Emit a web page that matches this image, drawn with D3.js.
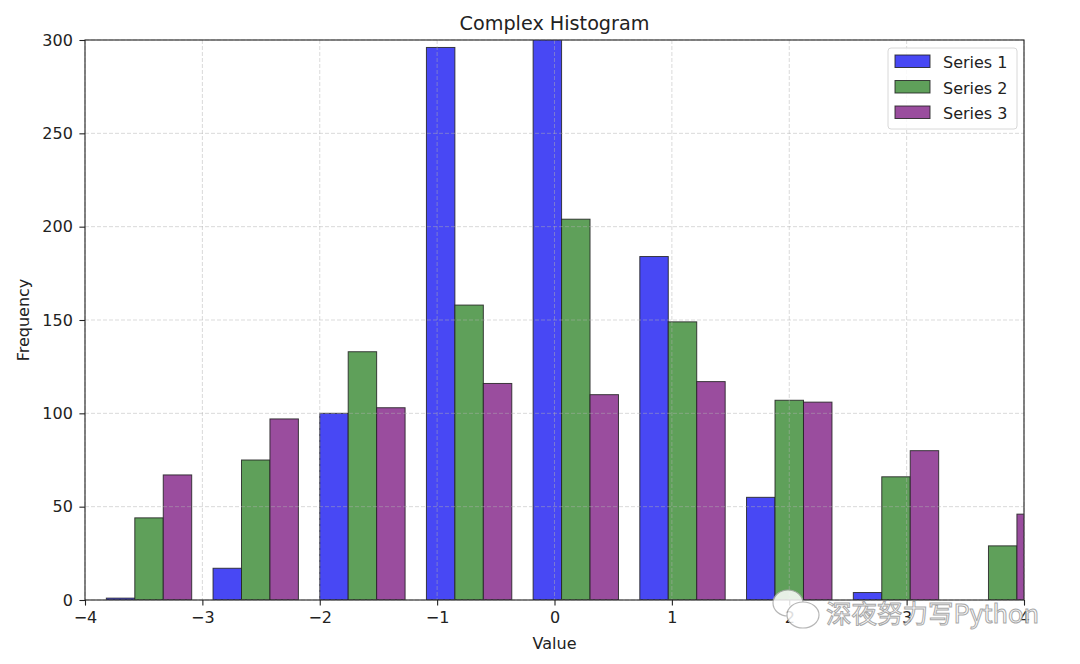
<!DOCTYPE html>
<html><head><meta charset="utf-8">
<script src="https://cdn.jsdelivr.net/npm/d3@7"></script>
<style>body{margin:0;background:#fff}svg{display:block;font-family:"DejaVu Sans",sans-serif}</style>
</head><body><svg id="c" width="1080" height="664"></svg>
<script>
const binEdges = [-3.909, -3.0, -2.091, -1.182, -0.273, 0.636, 1.545, 2.455, 3.364, 4.273];
const seriesNames = ["Series 1", "Series 2", "Series 3"];
const series1 = [1, 17, 100, 296, 320, 184, 55, 4, 0];
const series2 = [44, 75, 133, 158, 204, 149, 107, 66, 29];
const series3 = [67, 97, 103, 116, 110, 117, 106, 80, 46];
const seriesColors = ["#4848f4", "#5fa05a", "#9a4d9e"];
const xTicks = [-4, -3, -2, -1, 0, 1, 2, 3, 4];
const yTicks = [0, 50, 100, 150, 200, 250, 300];

const svg = d3.select("#c");
const L = 85, R = 1024, T = 40, B = 600;
const x = d3.scaleLinear().domain([-4, 4]).range([L, R]);
const y = d3.scaleLinear().domain([0, 300]).range([B, T]);
const allSeries = [series1, series2, series3];

svg.append("defs").append("clipPath").attr("id", "clip")
  .append("rect").attr("x", L).attr("y", T).attr("width", R - L).attr("height", B - T);

const plot = svg.append("g").attr("clip-path", "url(#clip)");
allSeries.forEach((vals, si) => {
  plot.selectAll(null).data(vals).enter().append("rect")
    .attr("x", (d, i) => {
      const w = binEdges[i + 1] - binEdges[i];
      const bw = 0.8 * w / 3;
      return x(binEdges[i] + 0.1 * w + si * bw);
    })
    .attr("width", (d, i) => x(binEdges[i] + 0.8 * (binEdges[i + 1] - binEdges[i]) / 3) - x(binEdges[i]))
    .attr("y", d => y(d))
    .attr("height", d => B - y(d))
    .attr("fill", seriesColors[si])
    .attr("stroke", "#222").attr("stroke-opacity", 0.85).attr("stroke-width", 1);
});

// grid
const grid = svg.append("g");
xTicks.forEach(t => grid.append("line").attr("x1", x(t)).attr("x2", x(t)).attr("y1", T).attr("y2", B)
  .attr("stroke", "#b0b0b0").attr("stroke-opacity", 0.6).attr("stroke-dasharray", "4,2").attr("stroke-width", 0.8));
yTicks.forEach(t => grid.append("line").attr("x1", L).attr("x2", R).attr("y1", y(t)).attr("y2", y(t))
  .attr("stroke", "#b0b0b0").attr("stroke-opacity", 0.6).attr("stroke-dasharray", "4,2").attr("stroke-width", 0.8));

// axes
const fmt = d => d < 0 ? "\u2212" + Math.abs(d) : String(d);
const xa = svg.append("g").attr("transform", `translate(0,${B})`)
  .call(d3.axisBottom(x).tickValues(xTicks).tickFormat(fmt).tickSizeOuter(0).tickSize(5.6).tickPadding(5.6));
const ya = svg.append("g").attr("transform", `translate(${L},0)`)
  .call(d3.axisLeft(y).tickValues(yTicks).tickSizeOuter(0).tickSize(5.6).tickPadding(6.5));
[xa, ya].forEach(a => {
  a.select(".domain").remove();
  a.selectAll("text").attr("font-size", 16).attr("fill", "#222").attr("font-family", "DejaVu Sans");
  a.selectAll("line").attr("stroke", "#222").attr("stroke-width", 1.1);
});
svg.append("rect").attr("x", L).attr("y", T).attr("width", R - L).attr("height", B - T)
  .attr("fill", "none").attr("stroke", "#222").attr("stroke-width", 1.1);

svg.append("text").attr("x", (L + R) / 2).attr("y", 30).attr("text-anchor", "middle")
  .attr("font-size", 19.2).attr("fill", "#222").text("Complex Histogram");
svg.append("text").attr("x", (L + R) / 2).attr("y", 649).attr("text-anchor", "middle")
  .attr("font-size", 16).attr("fill", "#222").text("Value");
svg.append("text").attr("transform", `translate(29,${(T + B) / 2}) rotate(-90)`).attr("text-anchor", "middle")
  .attr("font-size", 16).attr("fill", "#222").text("Frequency");

// legend
const lg = svg.append("g").attr("transform", "translate(888,48)");
lg.append("rect").attr("width", 129).attr("height", 81).attr("rx", 3)
  .attr("fill", "#fff").attr("fill-opacity", 0.85).attr("stroke", "#d8d8d8");
seriesNames.forEach((n, i) => {
  lg.append("rect").attr("x", 7).attr("y", 7 + i * 25.5).attr("width", 35).attr("height", 12.5)
    .attr("fill", seriesColors[i]).attr("stroke", "#222").attr("stroke-opacity", 0.85);
  lg.append("text").attr("x", 55).attr("y", 20 + i * 25.5).attr("font-size", 16).attr("fill", "#222").text(n);
});

// watermark
const wm = svg.append("g").attr("opacity", 0.85);
wm.append("ellipse").attr("cx", 788).attr("cy", 603).attr("rx", 15).attr("ry", 13)
  .attr("fill", "#fff").attr("stroke", "#aaa").attr("stroke-width", 1.2);
wm.append("ellipse").attr("cx", 803).attr("cy", 615).attr("rx", 16).attr("ry", 13)
  .attr("fill", "#fff").attr("stroke", "#aaa").attr("stroke-width", 1.2);
wm.append("text").attr("x", 826).attr("y", 623).attr("font-size", 25.5)
  .attr("font-family", "Noto Sans CJK SC").attr("fill", "#fff").attr("stroke", "#999").attr("stroke-width", 1)
  .text("深夜努力写Python");
</script></body></html>
